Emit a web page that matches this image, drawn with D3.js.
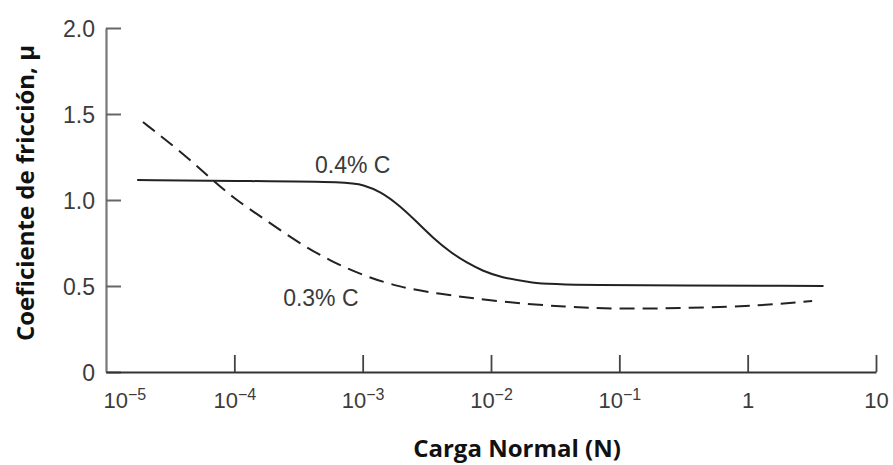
<!DOCTYPE html>
<html>
<head>
<meta charset="utf-8">
<script src="https://cdn.jsdelivr.net/npm/d3@7"></script>
<style>
  body { margin: 0; background: #fff; }
  svg { display: block; }
</style>
</head>
<body>
<div id="chart"></div>
<script>
// carga normal (N) and coeficiente de friccion
const c04Load = [1.75e-5, 1.32e-4, 8.0e-4, 1.0e-3, 1.37e-3, 1.96e-3, 2.65e-3, 3.54e-3, 4.8e-3, 6.5e-3, 8.7e-3, 1.18e-2, 2.13e-2, 3.46e-2, 3.9];
const c04Mu   = [1.116, 1.110, 1.105, 1.087, 1.052, 0.965, 0.872, 0.779, 0.698, 0.634, 0.587, 0.551, 0.517, 0.505, 0.500];

const c03Load = [1.94e-5, 3.78e-5, 6.5e-5, 9.8e-5, 1.67e-4, 3.08e-4, 5.6e-4, 1.08e-3, 1.96e-3, 3.54e-3, 1.18e-2, 3.9e-2, 0.101, 0.356, 1.19, 3.18];
const c03Mu   = [1.453, 1.285, 1.128, 1.012, 0.895, 0.756, 0.645, 0.552, 0.494, 0.459, 0.407, 0.378, 0.366, 0.372, 0.384, 0.413];

const xTicks = [1e-5, 1e-4, 1e-3, 1e-2, 1e-1, 1, 10];
const xTickLabels = [["10", "\u22125"], ["10", "\u22124"], ["10", "\u22123"], ["10", "\u22122"], ["10", "\u22121"], ["1", ""], ["10", ""]];
const yTicks = [0, 0.5, 1.0, 1.5, 2.0];
const yTickLabels = ["0", "0.5", "1.0", "1.5", "2.0"];

const curveLabels = ["0.4% C", "0.3% C"];
const labelLoad = [4.25e-4, 2.4e-4];
const labelMu = [1.157, 0.384];

const W = 893, H = 465;
const svg = d3.select("#chart").append("svg").attr("width", W).attr("height", H);

const x = d3.scaleLog().domain([1e-5, 10]).range([106, 876]);
const y = d3.scaleLinear().domain([0, 2]).range([372, 28]);

const tickFont = "'Liberation Sans', Arial, sans-serif";

// y axis (ticks point inward)
const yAxis = svg.append("g")
    .attr("transform", "translate(106,0)")
    .call(d3.axisLeft(y).tickValues(yTicks).tickSizeInner(-15).tickSizeOuter(0).tickPadding(11)
        .tickFormat((d, i) => yTickLabels[i]));
yAxis.select(".domain").attr("stroke", "#777").attr("stroke-width", 2.2);
yAxis.selectAll(".tick line").attr("stroke", "#666").attr("stroke-width", 2);
yAxis.selectAll(".tick text")
    .attr("font-family", tickFont).attr("font-size", 23).attr("fill", "#3c3c3c")
    .attr("dy", "0.36em");

// x axis (ticks point upward)
const xAxis = svg.append("g")
    .attr("transform", "translate(0,372)")
    .call(d3.axisBottom(x).tickValues(xTicks).tickSizeInner(-17).tickSizeOuter(0).tickPadding(20)
        .tickFormat(() => ""));
xAxis.select(".domain").attr("stroke", "#333").attr("stroke-width", 2.2);
xAxis.selectAll(".tick line").attr("stroke", "#444").attr("stroke-width", 1.8);
xAxis.selectAll(".tick line").filter(d => d === 1e-5).remove();
xAxis.selectAll(".tick text").each(function(d, i) {
  const t = d3.select(this)
      .attr("font-family", tickFont).attr("font-size", 22).attr("fill", "#3c3c3c")
      .attr("dy", "0.71em");
  // first label sits right of the corner so it clears the "0"
  if (i === 0) t.attr("text-anchor", "start").attr("x", -3);
  t.append("tspan").text(xTickLabels[i][0]);
  if (xTickLabels[i][1]) {
    t.append("tspan").attr("font-size", 16).attr("dy", "-0.5em").text(xTickLabels[i][1]);
  }
});

// curves
const line = d3.line()
    .x(d => x(d[0]))
    .y(d => y(d[1]))
    .curve(d3.curveBasis);

svg.append("path")
    .datum(d3.zip(c04Load, c04Mu))
    .attr("d", line)
    .attr("fill", "none")
    .attr("stroke", "#222")
    .attr("stroke-width", 2);

svg.append("path")
    .datum(d3.zip(c03Load, c03Mu))
    .attr("d", line)
    .attr("fill", "none")
    .attr("stroke", "#222")
    .attr("stroke-width", 2)
    .attr("stroke-dasharray", "15,8");

// curve labels
svg.selectAll(".clabel")
    .data(curveLabels)
    .enter().append("text")
    .attr("class", "clabel")
    .attr("x", (d, i) => x(labelLoad[i]))
    .attr("y", (d, i) => y(labelMu[i]))
    .attr("font-family", tickFont)
    .attr("font-size", 23)
    .attr("fill", "#3a3a3a")
    .text(d => d);

// axis titles
const titleFont = "'Open Sans', 'Noto Sans', sans-serif";
svg.append("text")
    .attr("x", 517)
    .attr("y", 457)
    .attr("text-anchor", "middle")
    .attr("font-family", titleFont)
    .attr("font-weight", "bold")
    .attr("font-size", 24)
    .attr("fill", "#111")
    .text("Carga Normal (N)");

svg.append("text")
    .attr("transform", "translate(34,193) rotate(-90)")
    .attr("text-anchor", "middle")
    .attr("font-family", titleFont)
    .attr("font-weight", "bold")
    .attr("font-size", 24)
    .attr("fill", "#111")
    .text("Coeficiente de fricción, μ");
</script>
</body>
</html>
